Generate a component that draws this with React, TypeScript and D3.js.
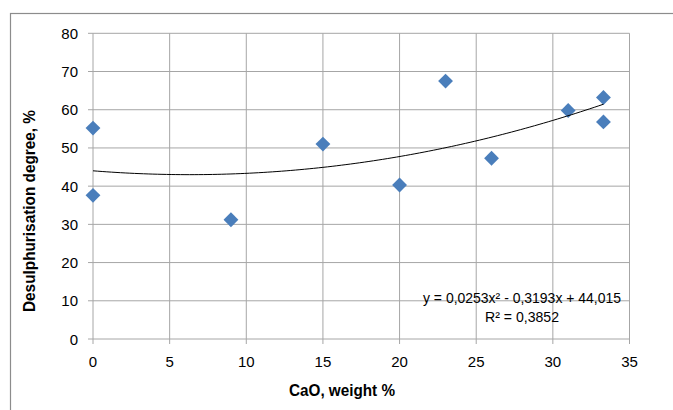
import React from "react";
import * as d3 from "d3";

const caoWeight = [0, 0, 9, 15, 20, 23, 26, 31, 33.3, 33.3];
const desulph = [55.2, 37.6, 31.2, 51.0, 40.3, 67.5, 47.3, 59.8, 63.2, 56.8];
const xTicks = [0, 5, 10, 15, 20, 25, 30, 35];
const yTicks = [0, 10, 20, 30, 40, 50, 60, 70, 80];
// polynomial trendline coefficients (as printed on the chart)
const trendCoef = [44.015, -0.3193, 0.0253];
const trendText = ["y = 0,0253x² - 0,3193x + 44,015", "R² = 0,3852"];

const W = 673;
const H = 410;
const font = "'Liberation Sans', Arial, sans-serif";

export default function App() {
  const x = d3.scaleLinear().domain([0, 35]).range([93, 629.5]);
  const y = d3.scaleLinear().domain([0, 80]).range([339, 33.3]);

  const trendX = d3.range(0, 33.3 + 0.001, 0.3).concat([33.3]);
  const trendPath = d3
    .line<number>()
    .x((d) => x(d))
    .y((d) => y(trendCoef[0] + trendCoef[1] * d + trendCoef[2] * d * d))(trendX);

  const diamond = d3.symbol().type(d3.symbolSquare).size(110)();

  return (
    <svg
      width={W}
      height={H}
      style={{ position: "absolute", left: 0, top: 0, background: "#fff" }}
    >
      <rect x={10.5} y={13.5} width={700} height={420} fill="#fff" stroke="#8c8c8c" strokeWidth={1.2} />

      {/* grid */}
      {xTicks.map((t) => (
        <line key={"gx" + t} x1={x(t)} x2={x(t)} y1={y(80)} y2={y(0) + 5} stroke="#a6a6a6" strokeWidth={1} />
      ))}
      {yTicks.map((t) => (
        <line key={"gy" + t} x1={x(0) - 5} x2={x(35)} y1={y(t)} y2={y(t)} stroke="#a6a6a6" strokeWidth={1} />
      ))}

      {/* tick labels */}
      {yTicks.map((t) => (
        <text key={"ly" + t} x={78} y={y(t) + 5.5} textAnchor="end" fontFamily={font} fontSize={15} fill="#000">
          {t}
        </text>
      ))}
      {xTicks.map((t) => (
        <text key={"lx" + t} x={x(t)} y={367} textAnchor="middle" fontFamily={font} fontSize={15} fill="#000">
          {t}
        </text>
      ))}

      {/* points */}
      {caoWeight.map((c, i) => (
        <path
          key={"p" + i}
          d={diamond!}
          transform={`translate(${x(c)},${y(desulph[i])}) rotate(45)`}
          fill="#4a7ebb"
        />
      ))}

      {/* trendline */}
      <path d={trendPath!} fill="none" stroke="#000" strokeWidth={1} />

      <text x={522} y={303} textAnchor="middle" fontFamily={font} fontSize={15} fill="#000"
        textLength={198} lengthAdjust="spacingAndGlyphs">
        {trendText[0]}
      </text>
      <text x={522} y={322} textAnchor="middle" fontFamily={font} fontSize={15} fill="#000"
        textLength={74} lengthAdjust="spacingAndGlyphs">
        {trendText[1]}
      </text>

      {/* axis titles */}
      <text x={342} y={396} textAnchor="middle" fontFamily={font} fontSize={16} fontWeight="bold" fill="#000"
        textLength={106} lengthAdjust="spacingAndGlyphs">
        CaO, weight %
      </text>
      <text
        transform="translate(35,211) rotate(-90)"
        textAnchor="middle"
        fontFamily={font}
        fontSize={16}
        fontWeight="bold"
        fill="#000"
        textLength={202}
        lengthAdjust="spacingAndGlyphs"
      >
        Desulphurisation degree, %
      </text>
    </svg>
  );
}
